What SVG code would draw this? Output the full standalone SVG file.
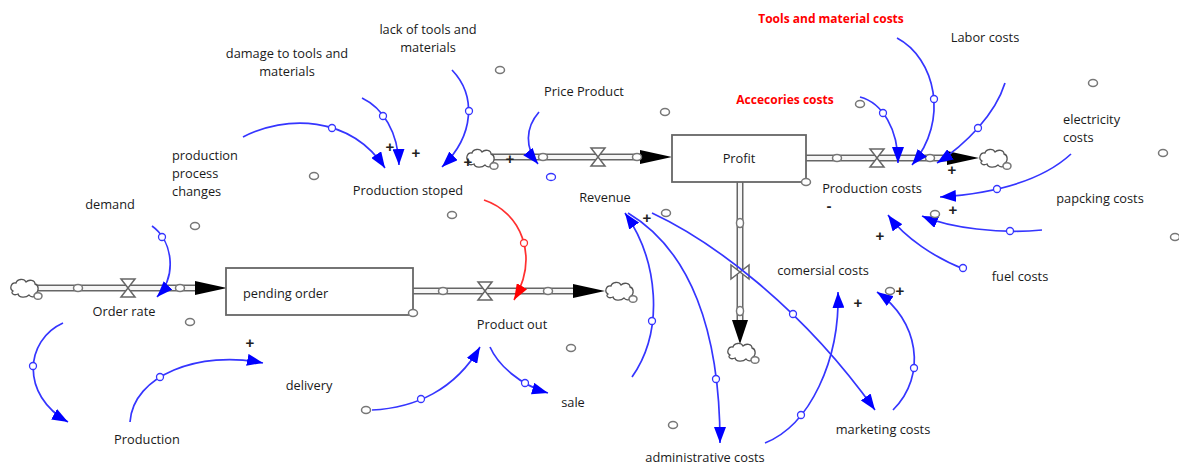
<svg xmlns="http://www.w3.org/2000/svg" xmlns:xlink="http://www.w3.org/1999/xlink" width="1179" height="466" viewBox="0 0 1179 466">
<style>
.t{font-family:"Open Sans","Liberation Sans",sans-serif;font-size:12.8px;fill:#1a1a1a}
.m{text-anchor:middle}
.red{fill:#ff0000;font-weight:bold;font-size:12px}
.pl{font-family:"Liberation Sans",sans-serif;font-size:15px;font-weight:bold;fill:#222;text-anchor:middle}
.lk{fill:none;stroke:#3535ff;stroke-width:1.7;marker-end:url(#ab)}
.lr{fill:none;stroke:#ff3030;stroke-width:1.7;marker-end:url(#ar)}
.mc{fill:#fff;stroke:#3535ff;stroke-width:1.3}
.mr{fill:#fff;stroke:#ff3030;stroke-width:1.3}
.gc{fill:#fff;stroke:#777;stroke-width:1.5}
.po{stroke:#666;stroke-width:7;fill:none}
.pi{stroke:#f6f6f6;stroke-width:4;fill:none}
.box{fill:#fff;stroke:#666;stroke-width:1.8}
.vl{fill:#fff;stroke:#666;stroke-width:1.5}
.hd{fill:#000}
.cl{fill:#fff;stroke:#555;stroke-width:1.3}
</style>
<defs>
<marker id="ab" viewBox="0 0 16 12" refX="16" refY="6" markerWidth="16" markerHeight="12" markerUnits="userSpaceOnUse" orient="auto"><path d="M0,0 L16,6 L0,12 Z" fill="#0000ff"/></marker>
<marker id="ar" viewBox="0 0 16 12" refX="16" refY="6" markerWidth="16" markerHeight="12" markerUnits="userSpaceOnUse" orient="auto"><path d="M0,0 L16,6 L0,12 Z" fill="#ff0000"/></marker>
<g id="cloud"><path class="cl" d="M-11,3 C-15,1 -13,-6 -8,-5 C-7,-9 0,-10 2,-6 C5,-9 11,-8 11,-4 C15,-3 15,3 12,5 C13,9 7,10 5,7 C2,10 -5,10 -6,6 C-10,8 -14,5 -11,3 Z"/><ellipse class="gc" cx="14" cy="8" rx="4" ry="3.3"/></g>
<path id="valve" class="vl" d="M-7,-9 L7,-9 L-7,9 L7,9 Z"/>
<ellipse id="pc" class="gc" rx="4.5" ry="3.5"/>
</defs>
<rect width="1179" height="466" fill="#fff"/>

<!-- flows (pipes) -->
<g id="flow-order-rate">
<line class="po" x1="36" y1="288" x2="198" y2="288"/><line class="pi" x1="36" y1="288" x2="198" y2="288"/>
<polygon class="hd" points="195,281 227,288 195,295"/>
<use href="#pc" x="78" y="288"/><use href="#pc" x="180" y="288"/>
<use href="#valve" x="128" y="288"/>
<use href="#cloud" x="24" y="288"/>
</g>
<g id="flow-product-out">
<line class="po" x1="413" y1="291" x2="576" y2="291"/><line class="pi" x1="413" y1="291" x2="576" y2="291"/>
<polygon class="hd" points="573,284 605,291 573,298"/>
<use href="#pc" x="443" y="291"/><use href="#pc" x="548" y="291"/>
<use href="#valve" x="485" y="291"/>
<use href="#cloud" x="619" y="291"/>
</g>
<g id="flow-revenue">
<line class="po" x1="492" y1="157" x2="643" y2="157"/><line class="pi" x1="492" y1="157" x2="643" y2="157"/>
<polygon class="hd" points="640,150 672,157 640,164"/>
<use href="#pc" x="543" y="157"/><use href="#pc" x="637" y="157"/>
<use href="#valve" x="598" y="157"/>
<use href="#cloud" x="480" y="158"/>
</g>
<g id="flow-production-costs">
<line class="po" x1="806" y1="158" x2="950" y2="158"/><line class="pi" x1="806" y1="158" x2="950" y2="158"/>
<polygon class="hd" points="947,151 979,158 947,165"/>
<use href="#pc" x="837" y="158"/><use href="#pc" x="930" y="158"/>
<use href="#valve" x="877" y="158"/>
<use href="#cloud" x="993" y="158"/>
</g>
<g id="flow-comersial-costs">
<line class="po" x1="740" y1="182" x2="740" y2="322"/><line class="pi" x1="740" y1="182" x2="740" y2="322"/>
<polygon class="hd" points="732,320 740,344 748,320"/>
<ellipse class="gc" cx="740" cy="223" rx="3.5" ry="4.5"/><ellipse class="gc" cx="740" cy="311" rx="3.5" ry="4.5"/>
<use href="#valve" transform="translate(740,272) rotate(90)"/>
<use href="#cloud" x="741" y="352"/>
</g>

<!-- stocks -->
<g id="pending-order">
<rect class="box" x="226" y="268" width="187" height="47"/>
<text class="t" x="243" y="298">pending order</text>
<use href="#pc" x="413" y="313"/>
</g>
<g id="profit">
<rect class="box" x="672" y="135" width="134" height="47"/>
<text class="t m" x="739" y="163">Profit</text>
<use href="#pc" x="806" y="182"/>
</g>

<!-- connectors -->
<g id="connectors">
<path class="lk" d="M152,226 C172,240 178,275 157,297"/><circle class="mc" cx="162" cy="237" r="3.5"/>
<path class="lk" d="M63,323 C25,340 20,395 68,422"/><circle class="mc" cx="33" cy="366" r="3.5"/>
<path class="lk" d="M130,422 C133,375 200,350 263,363"/><circle class="mc" cx="160" cy="377" r="3.5"/>
<path class="lk" d="M372,410 C415,408 455,390 480,347"/><circle class="mc" cx="421" cy="399" r="3.5"/>
<path class="lk" d="M490,347 C498,365 520,385 548,393"/><circle class="mc" cx="525" cy="383" r="3.5"/>
<path class="lr" d="M484,200 C520,212 540,255 514,300"/><circle class="mr" cx="524" cy="243" r="3.5"/>
<path class="lk" d="M243,137 C285,115 350,115 385,168"/><circle class="mc" cx="332" cy="128" r="3.5"/>
<path class="lk" d="M362,98 C383,108 398,132 399,165"/><circle class="mc" cx="383" cy="116" r="3.5"/>
<path class="lk" d="M452,70 C476,95 475,135 442,167"/><circle class="mc" cx="469" cy="111" r="3.5"/>
<path class="lk" d="M539,112 C525,128 525,148 538,164"/>
<path class="lk" d="M632,377 C665,330 658,260 625,213"/><circle class="mc" cx="652" cy="321" r="3.5"/>
<path class="lk" d="M628,213 C690,250 720,330 720,443"/><circle class="mc" cx="716" cy="379" r="3.5"/>
<path class="lk" d="M652,213 C710,240 800,305 875,410"/><circle class="mc" cx="793" cy="314" r="3.5"/>
<path class="lk" d="M765,443 C810,425 840,360 838,292"/><circle class="mc" cx="801" cy="415" r="3.5"/>
<path class="lk" d="M893,410 C928,375 918,320 877,292"/><circle class="mc" cx="914" cy="368" r="3.5"/>
<path class="lk" d="M966,270 C935,258 905,238 888,215"/><circle class="mc" cx="963" cy="268" r="3.5"/>
<path class="lk" d="M1042,230 C1000,234 950,228 922,216"/><circle class="mc" cx="1010" cy="231" r="3.5"/>
<path class="lk" d="M1071,154 C1045,178 1000,193 940,197"/><circle class="mc" cx="997" cy="189" r="3.5"/>
<path class="lk" d="M1005,83 C995,115 965,145 937,163"/><circle class="mc" cx="978" cy="128" r="3.5"/>
<path class="lk" d="M897,38 C935,58 950,120 912,165"/><circle class="mc" cx="934" cy="99" r="3.5"/>
<path class="lk" d="M860,97 C883,103 898,130 898,163"/><circle class="mc" cx="883" cy="113" r="3.5"/>
</g>

<!-- polarity signs and loose handles -->
<g id="marks">
<text class="pl" x="416" y="158">+</text><text class="pl" x="390" y="152">+</text>
<text class="pl" x="468" y="167">+</text><text class="pl" x="510" y="164">+</text>
<text class="pl" x="647" y="223">+</text><text class="pl" x="952" y="175">+</text>
<text class="pl" x="953" y="215">+</text><text class="pl" x="880" y="241">+</text>
<text class="pl" x="858" y="308">+</text><text class="pl" x="900" y="296">+</text>
<text class="pl" x="250" y="348">+</text>
<text class="pl" x="829" y="211">-</text>
<use href="#pc" x="500" y="70"/><use href="#pc" x="665" y="112"/><use href="#pc" x="314" y="176"/>
<use href="#pc" x="195" y="226"/><use href="#pc" x="190" y="322"/><use href="#pc" x="452" y="215"/>
<use href="#pc" x="571" y="348"/><use href="#pc" x="673" y="425"/><use href="#pc" x="1093" y="83"/>
<use href="#pc" x="1163" y="153"/><use href="#pc" x="1175" y="237"/><use href="#pc" x="860" y="104"/>
<use href="#pc" x="935" y="214"/><use href="#pc" x="890" y="291"/><use href="#pc" x="366" y="410"/>
<use href="#pc" x="666" y="213"/>
<ellipse class="mc" cx="551" cy="177" rx="4.5" ry="3.5"/>
</g>

<!-- variables -->
<g id="tools-material-costs"><text class="t m red" x="831" y="23">Tools and material costs</text></g>
<g id="labor-costs"><text class="t m" x="985" y="42">Labor costs</text></g>
<g id="lack-of-tools"><text class="t m" x="428" y="34">lack of tools and</text><text class="t m" x="428" y="52">materials</text></g>
<g id="damage-to-tools"><text class="t m" x="287" y="58">damage to tools and</text><text class="t m" x="287" y="76">materials</text></g>
<g id="price-product"><text class="t m" x="584" y="96">Price Product</text></g>
<g id="accecories-costs"><text class="t m red" x="785" y="104">Accecories costs</text></g>
<g id="electricity-costs"><text class="t" x="1063" y="124">electricity</text><text class="t" x="1063" y="142">costs</text></g>
<g id="production-process-changes"><text class="t" x="172" y="160">production</text><text class="t" x="172" y="178">process</text><text class="t" x="172" y="196">changes</text></g>
<g id="demand"><text class="t m" x="110" y="209">demand</text></g>
<g id="production-stoped"><text class="t m" x="408" y="195">Production stoped</text></g>
<g id="revenue"><text class="t m" x="605" y="202">Revenue</text></g>
<g id="production-costs"><text class="t m" x="872" y="193">Production costs</text></g>
<g id="papcking-costs"><text class="t m" x="1100" y="203">papcking costs</text></g>
<g id="comersial-costs"><text class="t m" x="823" y="275">comersial costs</text></g>
<g id="fuel-costs"><text class="t m" x="1020" y="281">fuel costs</text></g>
<g id="order-rate"><text class="t m" x="124" y="316">Order rate</text></g>
<g id="product-out"><text class="t m" x="512" y="329">Product out</text></g>
<g id="delivery"><text class="t m" x="309" y="390">delivery</text></g>
<g id="sale"><text class="t m" x="573" y="407">sale</text></g>
<g id="marketing-costs"><text class="t m" x="883" y="434">marketing costs</text></g>
<g id="production"><text class="t m" x="147" y="444">Production</text></g>
<g id="administrative-costs"><text class="t m" x="705" y="462">administrative costs</text></g>
</svg>
